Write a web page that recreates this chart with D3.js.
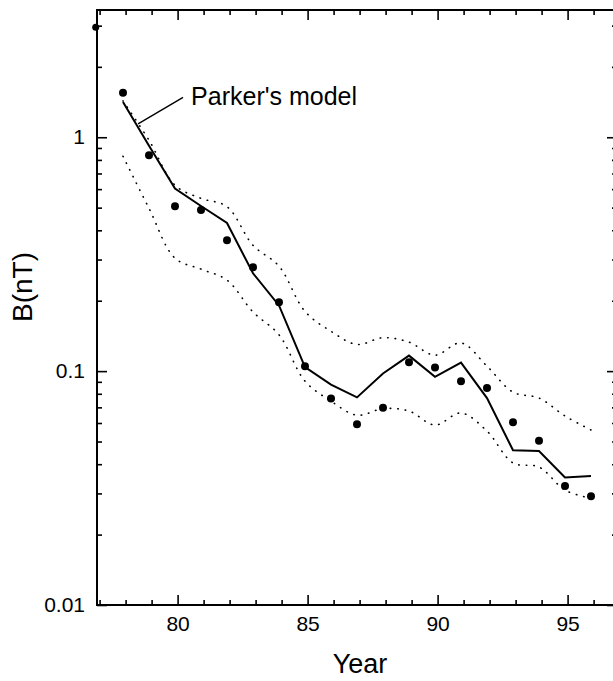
<!DOCTYPE html>
<html>
<head>
<meta charset="utf-8">
<script src="https://cdn.jsdelivr.net/npm/d3@7"></script>
<style>
  body { margin: 0; background: #fff; }
  text { font-family: "Liberation Sans", Arial, sans-serif; fill: #000; }
</style>
</head>
<body>
<div id="chart"></div>
<script>
const width = 613;
const height = 681;

// years of the points (plotted just before the integer year)
const years = [77.9, 78.9, 79.9, 80.9, 81.9, 82.9, 83.9, 84.9, 85.9, 86.9,
               87.9, 88.9, 89.9, 90.9, 91.9, 92.9, 93.9, 94.9, 95.9];

// observed field (filled circles)
const observed = [1.55, 0.838, 0.507, 0.488, 0.363, 0.278, 0.197, 0.105, 0.0764, 0.0592,
                  0.0697, 0.109, 0.1037, 0.0906, 0.0846, 0.0604, 0.0504, 0.0323, 0.0292];

// Parker's model (solid line)
const parker = [1.415, 0.92, 0.604, 0.508, 0.430, 0.262, 0.191, 0.104, 0.0875, 0.0772,
                0.0977, 0.1165, 0.0946, 0.1087, 0.0767, 0.0459, 0.0455, 0.0351, 0.0356];

// dotted envelope
const upper = [1.43, 0.971, 0.624, 0.548, 0.505, 0.345, 0.281, 0.180, 0.148, 0.130,
               0.139, 0.133, 0.117, 0.132, 0.105, 0.0813, 0.0767, 0.0643, 0.0560];
const lower = [0.829, 0.497, 0.304, 0.273, 0.245, 0.179, 0.143, 0.0906, 0.0744, 0.0648,
               0.0691, 0.0675, 0.0588, 0.0662, 0.0554, 0.0405, 0.0389, 0.0310, 0.0286];

// point cut by the left axis at the top
const extraPoint = { year: 76.85, value: 2.95 };

const xMajor = [80, 85, 90, 95];
const xMinor = d3.range(77, 97);
const yMajor = [0.01, 0.1, 1];
const yMajorLabels = ["0.01", "0.1", "1"];
const yMinor = [0.02, 0.03, 0.04, 0.05, 0.06, 0.07, 0.08, 0.09,
                0.2, 0.3, 0.4, 0.5, 0.6, 0.7, 0.8, 0.9, 2, 3];

const margin = { top: 10, right: -4, bottom: 76, left: 97 };

const svg = d3.select("#chart").append("svg")
    .attr("width", width)
    .attr("height", height);

const x = d3.scaleLinear()
    .domain([76.9, 96.9])
    .range([margin.left, width - margin.right]);

const y = d3.scaleLog()
    .domain([0.01, 3.5])
    .range([height - margin.bottom, margin.top]);

const x0 = x.range()[0], x1 = x.range()[1];
const y0 = y.range()[0], y1 = y.range()[1];

// axes (ticks inward)
function styleAxis(g) {
    g.select(".domain").remove();
    g.selectAll(".tick line").attr("stroke", "#000").attr("stroke-width", 1.6);
    g.selectAll(".tick text").style("font-size", "21px")
        .style("font-family", "'Liberation Sans', Arial, sans-serif");
}

svg.append("g").attr("transform", `translate(0,${y0})`)
    .call(d3.axisBottom(x).tickValues(xMinor.filter(v => !xMajor.includes(v))).tickSize(-5).tickFormat(""))
    .call(styleAxis);
svg.append("g").attr("transform", `translate(0,${y0})`)
    .call(d3.axisBottom(x).tickValues(xMajor).tickSize(-10).tickPadding(11).tickFormat(d3.format("d")))
    .call(styleAxis);
svg.append("g").attr("transform", `translate(0,${y1})`)
    .call(d3.axisTop(x).tickValues(xMinor.filter(v => !xMajor.includes(v))).tickSize(-5).tickFormat(""))
    .call(styleAxis);
svg.append("g").attr("transform", `translate(0,${y1})`)
    .call(d3.axisTop(x).tickValues(xMajor).tickSize(-10).tickFormat(""))
    .call(styleAxis);

svg.append("g").attr("transform", `translate(${x0},0)`)
    .call(d3.axisLeft(y).tickValues(yMinor).tickSize(-5).tickFormat(""))
    .call(styleAxis);
svg.append("g").attr("transform", `translate(${x0},0)`)
    .call(d3.axisLeft(y).tickValues(yMajor).tickSize(-10).tickPadding(12)
        .tickFormat((d, i) => yMajorLabels[i]))
    .call(styleAxis);
svg.append("g").attr("transform", `translate(${x1},0)`)
    .call(d3.axisRight(y).tickValues(yMinor).tickSize(-5).tickFormat(""))
    .call(styleAxis);
svg.append("g").attr("transform", `translate(${x1},0)`)
    .call(d3.axisRight(y).tickValues(yMajor).tickSize(-10).tickFormat(""))
    .call(styleAxis);

// frame
svg.append("rect")
    .attr("x", x0).attr("y", y1)
    .attr("width", x1 - x0).attr("height", y0 - y1)
    .attr("fill", "none").attr("stroke", "#000").attr("stroke-width", 2);

// dotted envelope
const smooth = d3.line()
    .x((d, i) => x(years[i]))
    .y(d => y(d))
    .curve(d3.curveCatmullRom.alpha(0.5));

[upper, lower].forEach(series => {
    svg.append("path")
        .datum(series)
        .attr("d", smooth)
        .attr("fill", "none")
        .attr("stroke", "#000")
        .attr("stroke-width", 1.6)
        .attr("stroke-linecap", "round")
        .attr("stroke-dasharray", "0.5 7");
});

// Parker's model
const straight = d3.line()
    .x((d, i) => x(years[i]))
    .y(d => y(d));

svg.append("path")
    .datum(parker)
    .attr("d", straight)
    .attr("fill", "none")
    .attr("stroke", "#000")
    .attr("stroke-width", 2)
    .attr("stroke-linejoin", "miter");

// observed points
svg.selectAll(".pt")
    .data(observed)
    .enter().append("circle")
    .attr("class", "pt")
    .attr("cx", (d, i) => x(years[i]))
    .attr("cy", d => y(d))
    .attr("r", 4)
    .attr("fill", "#000");

svg.append("circle")
    .attr("cx", x(extraPoint.year))
    .attr("cy", y(extraPoint.value))
    .attr("r", 3.5)
    .attr("fill", "#000");

// annotation
const note = { text: "Parker's model", year: 80.52, value: 1.37,
               from: [80.21, 1.48], to: [78.48, 1.14] };

svg.append("line")
    .attr("x1", x(note.from[0])).attr("y1", y(note.from[1]))
    .attr("x2", x(note.to[0])).attr("y2", y(note.to[1]))
    .attr("stroke", "#000").attr("stroke-width", 1.4);

svg.append("text")
    .attr("x", x(note.year))
    .attr("y", y(note.value))
    .style("font-size", "25px")
    .text(note.text);

// axis titles
svg.append("text")
    .attr("x", 360)
    .attr("y", 673)
    .attr("text-anchor", "middle")
    .style("font-size", "27px")
    .text("Year");

svg.append("text")
    .attr("transform", "translate(32,287) rotate(-90)")
    .attr("text-anchor", "middle")
    .style("font-size", "28px")
    .text("B(nT)");
</script>
</body>
</html>
